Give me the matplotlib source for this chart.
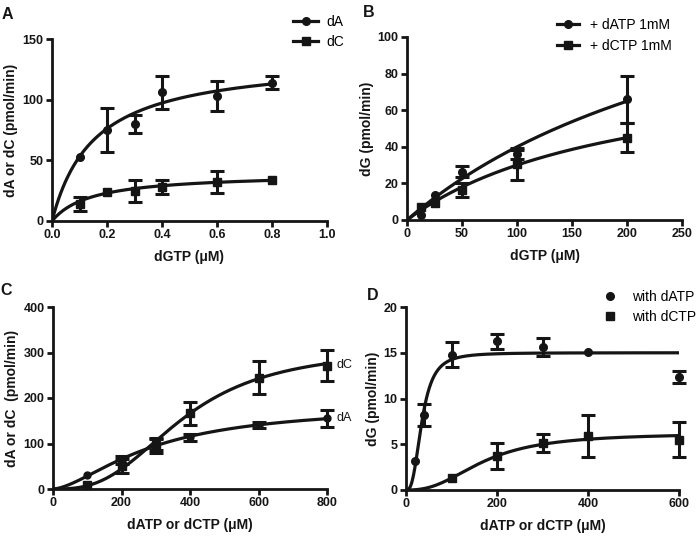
import numpy as np
import matplotlib
matplotlib.use("Agg")
import matplotlib.pyplot as plt
from matplotlib.lines import Line2D

plt.rcParams['font.family'] = ['Liberation Sans', 'DejaVu Sans']

INK = '#151515'

# ---- panel A: dA / dC vs dGTP ----
dgtp_a = [0.1, 0.2, 0.3, 0.4, 0.6, 0.8]
da_a = [53, 75, 80, 106, 103, 114]
da_a_err = [0, 18.5, 7.5, 13.5, 12, 5.5]
dc_a = [14, 23.5, 25, 28, 32, 33.5]
dc_a_err = [6, 0, 9, 6, 9, 0]
fit_da_a = (134.7, 0.154)      # Vmax, Km
fit_dc_a = (39.5, 0.1436)

# ---- panel B: dG vs dGTP ----
dgtp_b = [12.5, 25, 50, 100, 200]
datp_b = [2.7, 13.7, 26.5, 36, 66]
datp_b_err = [0, 0, 3.2, 2.5, 12.8]
dctp_b = [6.9, 9.1, 16.6, 30.5, 45]
dctp_b_err = [0, 0, 3.8, 8.7, 8]
fit_datp_b = (173, 333)
fit_dctp_b = (90, 200)

# ---- panel C: dA / dC vs dATP or dCTP ----
x_c = [100, 200, 300, 400, 600, 800]
da_c = [30, 64, 97, 113.5, 141, 155]
da_c_err = [0, 8, 12, 7, 6, 19]
dc_c = [8, 50, 96, 166, 244.7, 271]
dc_c_err = [0, 15, 17, 26, 36, 34]
fit_da_c = (185, 290, 1.6)     # Vmax, K, hill
fit_dc_c = (310, 380, 2.8)

# ---- panel D: dG vs dATP or dCTP ----
x_d1 = [20, 40, 100, 200, 300, 400, 600]
datp_d = [3.2, 8.2, 14.8, 16.25, 15.6, 15.1, 12.35]
datp_d_err = [0, 1.2, 1.4, 0.85, 1.0, 0, 0.65]
x_d2 = [100, 200, 300, 400, 600]
dctp_d = [1.3, 3.7, 5.15, 5.9, 5.5]
dctp_d_err = [0, 1.45, 1.0, 2.3, 1.9]
fit_datp_d = (15.0, 35, 2.8)
fit_dctp_d = (6.2, 170, 2.5)


def mm(x, vmax, km):
    return vmax * x / (km + x)


def hill(x, vmax, k, h):
    return vmax * x ** h / (k ** h + x ** h)


def style_ax(ax, xlim, xticks, ylim, yticks, xlabel, ylabel, xfmt=None):
    for s in ('top', 'right'):
        ax.spines[s].set_visible(False)
    for s in ('left', 'bottom'):
        ax.spines[s].set_linewidth(2.0)
        ax.spines[s].set_color(INK)
    ax.set_xlim(*xlim)
    ax.set_ylim(*ylim)
    ax.set_xticks(xticks)
    ax.set_yticks(yticks)
    if xfmt:
        ax.set_xticklabels([xfmt.format(t) for t in xticks])
    ax.tick_params(direction='out', length=4, width=2.0, color=INK,
                   labelsize=9, pad=2)
    for lab in ax.get_xticklabels() + ax.get_yticklabels():
        lab.set_fontweight('bold')
        lab.set_color(INK)
    ax.set_xlabel(xlabel, fontsize=10, fontweight='bold', color=INK, labelpad=6)
    ax.set_ylabel(ylabel, fontsize=10, fontweight='bold', color=INK, labelpad=3)


def points(ax, x, y, err, marker, ms):
    x = np.asarray(x, float)
    y = np.asarray(y, float)
    err = np.asarray(err, float)
    ax.plot(x, y, marker, color=INK, ms=ms, ls='none', clip_on=False, zorder=4)
    m = err > 0
    ax.errorbar(x[m], y[m], yerr=err[m], fmt='none', ecolor=INK,
                elinewidth=2.2, capsize=5, capthick=2.2, clip_on=False, zorder=4)


fig = plt.figure(figsize=(7.0, 5.38), dpi=100)
W, H = 700, 538


def rect(l, r, t, b):
    return [l / W, 1 - b / H, (r - l) / W, (b - t) / H]


# ---------------- A ----------------
axA = fig.add_axes(rect(52, 327, 39, 221))
xx = np.linspace(0, 0.8, 200)
axA.plot(xx, mm(xx, *fit_da_a), color=INK, lw=2.3)
axA.plot(xx, mm(xx, *fit_dc_a), color=INK, lw=2.3)
points(axA, dgtp_a, da_a, da_a_err, 'o', 5.5)
points(axA, dgtp_a, dc_a, dc_a_err, 's', 6)
style_ax(axA, (0, 1.0), [0, 0.2, 0.4, 0.6, 0.8, 1.0], (0, 150), [0, 50, 100, 150],
         'dGTP (μM)', 'dA or dC (pmol/min)', '{:.1f}')
hA = [Line2D([], [], color=INK, lw=2.3, marker='o', ms=5.5),
      Line2D([], [], color=INK, lw=2.3, marker='s', ms=6)]
fig.legend(hA, ['dA', 'dC'], loc='upper left', bbox_to_anchor=(293 / W, 1 - 15 / H),
           frameon=False, fontsize=10, handlelength=1.8, handletextpad=0.6,
           borderpad=0, borderaxespad=0, labelspacing=0.45)

# ---------------- B ----------------
axB = fig.add_axes(rect(407, 682, 37, 220))
xx = np.linspace(0, 200, 200)
axB.plot(xx, mm(xx, *fit_datp_b), color=INK, lw=2.3)
axB.plot(xx, mm(xx, *fit_dctp_b), color=INK, lw=2.3)
points(axB, dgtp_b, datp_b, datp_b_err, 'o', 5.5)
points(axB, dgtp_b, dctp_b, dctp_b_err, 's', 6)
style_ax(axB, (0, 250), [0, 50, 100, 150, 200, 250], (0, 100), [0, 20, 40, 60, 80, 100],
         'dGTP (μM)', 'dG (pmol/min)')
fig.legend(hA, ['+ dATP 1mM', '+ dCTP 1mM'], loc='upper left',
           bbox_to_anchor=(557 / W, 1 - 18 / H), frameon=False, fontsize=10,
           handlelength=1.6, handletextpad=0.75, borderpad=0, borderaxespad=0,
           labelspacing=0.5)

# ---------------- C ----------------
axC = fig.add_axes(rect(53, 327, 307, 489))
xx = np.linspace(0, 800, 300)
axC.plot(xx, hill(xx, *fit_da_c), color=INK, lw=2.3)
axC.plot(xx, hill(xx, *fit_dc_c), color=INK, lw=2.3)
points(axC, x_c, da_c, da_c_err, 'o', 5)
points(axC, x_c, dc_c, dc_c_err, 's', 6)
style_ax(axC, (0, 800), [0, 200, 400, 600, 800], (0, 400), [0, 100, 200, 300, 400],
         'dATP or dCTP (μM)', 'dA or dC  (pmol/min)')
axC.annotate('dC', (800, 272), xytext=(7, 0), textcoords='offset points',
             fontsize=9, color=INK, va='center', annotation_clip=False)
axC.annotate('dA', (800, 156), xytext=(7, 0), textcoords='offset points',
             fontsize=9, color=INK, va='center', annotation_clip=False)

# ---------------- D ----------------
axD = fig.add_axes(rect(406, 679, 307, 490))
xx = np.linspace(0, 600, 400)
axD.plot(xx, hill(xx, *fit_datp_d), color=INK, lw=2.3)
axD.plot(xx, hill(xx, *fit_dctp_d), color=INK, lw=2.3)
points(axD, x_d1, datp_d, datp_d_err, 'o', 5.5)
points(axD, x_d2, dctp_d, dctp_d_err, 's', 6)
style_ax(axD, (0, 600), [0, 200, 400, 600], (0, 20), [0, 5, 10, 15, 20],
         'dATP or dCTP (μM)', 'dG (pmol/min)')
hD = [Line2D([], [], color=INK, ls='none', marker='o', ms=5.5),
      Line2D([], [], color=INK, ls='none', marker='s', ms=6)]
fig.legend(hD, ['with dATP', 'with dCTP'], loc='upper left',
           bbox_to_anchor=(603 / W, 1 - 290 / H), frameon=False, fontsize=10,
           handlelength=1.0, handletextpad=1.1, borderpad=0, borderaxespad=0,
           labelspacing=0.45)

# panel letters
for lab, px, py in [('A', 2, 7), ('B', 363, 5), ('C', 0, 283), ('D', 367, 288)]:
    fig.text(px / W, 1 - py / H, lab, fontsize=11.5, fontweight='bold',
             color=INK, ha='left', va='top')

fig.savefig('out.png', dpi=100, facecolor='white')
